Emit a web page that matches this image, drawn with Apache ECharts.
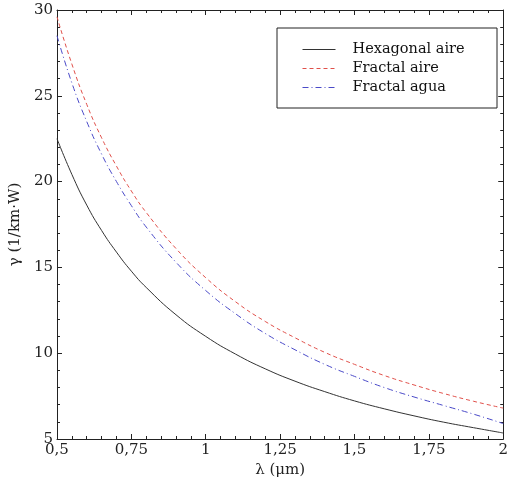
<!DOCTYPE html>
<html>
<head>
<meta charset="utf-8">
<script src="https://cdn.jsdelivr.net/npm/echarts@6/dist/echarts.min.js"></script>
<style>html,body{margin:0;padding:0;background:#fff}#c{width:511px;height:487px}</style>
</head>
<body>
<div id="c"></div>
<script>
const lambda = [0.5,0.55,0.6,0.65,0.7,0.75,0.8,0.9,1.0,1.1,1.2,1.3,1.4,1.5,1.6,1.7,1.8,1.9,2.0];
const hexAire = [22.5,20.42,18.63,17.15,15.89,14.78,13.83,12.24,10.98,9.95,9.09,8.37,7.76,7.22,6.76,6.35,5.98,5.66,5.35];
const fracAire = [29.6,26.85,24.5,22.55,20.9,19.45,18.2,16.1,14.4,13.0,11.85,10.9,10.05,9.35,8.7,8.15,7.65,7.2,6.8];
const fracAgua = [28.5,25.75,23.5,21.6,20.0,18.6,17.35,15.3,13.65,12.3,11.15,10.2,9.35,8.65,8.0,7.45,6.95,6.45,5.9];
const seriesNames = ['Hexagonal aire','Fractal aire','Fractal agua'];
const xTicks = {min:0.5, max:2, step:0.25};
const yTicks = {min:5, max:30, step:5};

const font = 'DejaVu Serif';
const chart = echarts.init(document.getElementById('c'));
const pair = a => lambda.map((x,i)=>[x,a[i]]);
const axisCommon = {
  axisLine:{show:true,lineStyle:{color:'#222',width:1}},
  axisTick:{show:true,inside:true,length:5,lineStyle:{color:'#222'}},
  minorTick:{show:true,splitNumber:5,length:3,lineStyle:{color:'#222'}},
  splitLine:{show:false},
};
chart.setOption({
  animation:false,
  grid:{left:56,right:3,top:10,bottom:48},
  xAxis:[
    Object.assign({type:'value',min:xTicks.min,max:xTicks.max,interval:xTicks.step,position:'bottom',
      name:'λ (μm)',nameLocation:'middle',nameGap:24,
      nameTextStyle:{fontFamily:font,fontSize:15,color:'#222'},
      axisLabel:{fontFamily:font,fontSize:15,color:'#222',margin:4,
        formatter:v=>String(+v.toFixed(2)).replace('.',',')}},axisCommon),
    Object.assign({type:'value',min:xTicks.min,max:xTicks.max,interval:xTicks.step,position:'top',
      axisLabel:{show:false}},axisCommon)
  ],
  yAxis:[
    Object.assign({type:'value',min:yTicks.min,max:yTicks.max,interval:yTicks.step,position:'left',
      name:'γ (1/km·W)',nameLocation:'middle',nameGap:25,
      nameTextStyle:{fontFamily:font,fontSize:15,color:'#222'},
      axisLabel:{fontFamily:font,fontSize:15,color:'#222',margin:4}},axisCommon),
    Object.assign({type:'value',min:yTicks.min,max:yTicks.max,interval:yTicks.step,position:'right',
      axisLabel:{show:false}},axisCommon)
  ],
  legend:{
    orient:'vertical',left:297,top:37,itemWidth:33,itemHeight:12,itemGap:4,
    data:seriesNames,
    itemStyle:{opacity:0},
    lineStyle:{width:1},
    textStyle:{fontFamily:font,fontSize:14.5,lineHeight:12,color:'#111',padding:[0,0,0,12]}
  },
  graphic:[{type:'rect',shape:{x:277,y:28,width:220,height:80},
    style:{fill:'none',stroke:'#222',lineWidth:1},z:100}],
  series:[
    {name:seriesNames[0],type:'line',data:pair(hexAire),smooth:true,symbol:'none',
      lineStyle:{color:'#333',width:1},itemStyle:{color:'#333'}},
    {name:seriesNames[1],type:'line',data:pair(fracAire),smooth:true,symbol:'none',
      lineStyle:{color:'#e0504a',width:1,type:[4,3]},itemStyle:{color:'#e0504a'}},
    {name:seriesNames[2],type:'line',data:pair(fracAgua),smooth:true,symbol:'none',
      lineStyle:{color:'#4a4ac8',width:1,type:[6,3,1,3]},itemStyle:{color:'#4a4ac8'}}
  ]
});
</script>
</body>
</html>
